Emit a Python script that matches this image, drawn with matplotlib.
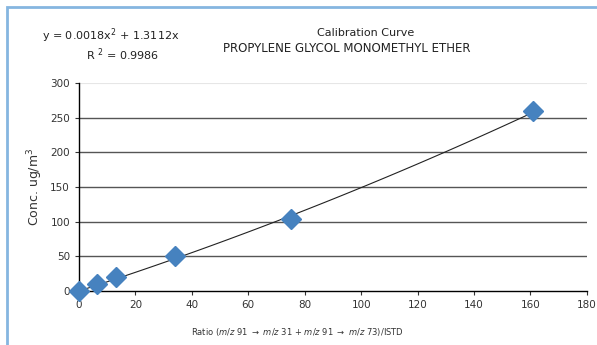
import matplotlib
matplotlib.use("Agg")
import matplotlib.pyplot as plt
from matplotlib.patches import Rectangle

# calibration points
ratio = [0, 6.5, 13, 34, 75, 161]
conc = [0, 10, 20, 51, 104, 260]
fit_a = 0.0018
fit_b = 1.3112
yticks = [0, 50, 100, 150, 200, 250, 300]
xticks = [0, 20, 40, 60, 80, 100, 120, 140, 160, 180]

plt.rcParams['font.family'] = ['Liberation Sans Narrow', 'DejaVu Sans']
plt.rcParams['mathtext.fontset'] = 'custom'
plt.rcParams['mathtext.it'] = 'Liberation Sans Narrow:italic'
plt.rcParams['mathtext.rm'] = 'Liberation Sans Narrow'

fig = plt.figure(figsize=(5.97, 3.45), dpi=100)
ax = fig.add_axes([0.1323, 0.1565, 0.8507, 0.6029])

# blue frame on left and top of the chart box
fig.patches.append(Rectangle((7/597, -0.1), 1.2, 1 - 7/345 + 0.1, transform=fig.transFigure,
                             fill=False, edgecolor='#85b6e0', linewidth=2))

ax.set_xlim(0, 180)
ax.set_ylim(0, 300)
ax.set_xticks(xticks)
ax.set_yticks(yticks)
ax.tick_params(labelsize=7.5, length=3, width=0.8, colors='#333333')
for s in ['top', 'right']:
    ax.spines[s].set_visible(False)
for s in ['left', 'bottom']:
    ax.spines[s].set_linewidth(1)

for y in yticks[1:-1]:
    ax.axhline(y, color='#555555', linewidth=1, zorder=1)
ax.axhline(300, color='#e6e6e6', linewidth=0.8, zorder=1)

xs = [ratio[0] + (ratio[-1] - ratio[0]) * i / 100 for i in range(101)]
ax.plot(xs, [fit_a * x**2 + fit_b * x for x in xs], color='#222222', linewidth=0.8, zorder=2)
ax.plot(ratio, conc, linestyle='none', marker='D', markersize=10, color='#4682bf', zorder=3, clip_on=False)

ax.set_ylabel('Conc. ug/m$^3$', fontsize=9, color='#333333', labelpad=4)
ax.set_xlabel(r'Ratio ($\it{m/z}$ 91 $\rightarrow$ $\it{m/z}$ 31 + $\it{m/z}$ 91 $\rightarrow$ $\it{m/z}$ 73)/ISTD',
              fontsize=6, color='#333333')
ax.xaxis.set_label_coords(0.43, -0.17)

fig.text(0.185, 0.897, 'y = 0.0018x$^2$ + 1.3112x', fontsize=8, ha='center', va='center', color='#222222')
fig.text(0.205, 0.840, 'R $^2$ = 0.9986', fontsize=8, ha='center', va='center', color='#222222')
fig.text(0.613, 0.905, 'Calibration Curve', fontsize=8, ha='center', va='center', color='#222222')
fig.text(0.58, 0.860, 'PROPYLENE GLYCOL MONOMETHYL ETHER', fontsize=8.5, ha='center', va='center', color='#222222')

fig.savefig('out.png', dpi=100)
